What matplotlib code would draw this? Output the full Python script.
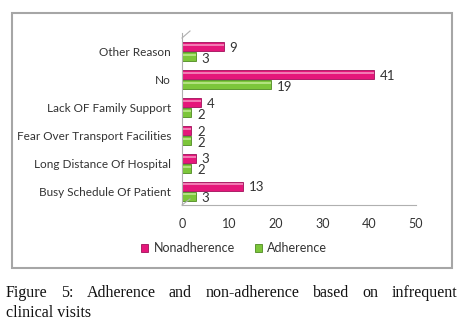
import matplotlib.pyplot as plt
from matplotlib.patches import Rectangle
from matplotlib.lines import Line2D

categories = ["Busy Schedule Of Patient", "Long Distance Of Hospital",
              "Fear Over Transport Facilities", "Lack OF Family Support",
              "No", "Other Reason"]
nonadherence = [13, 3, 2, 4, 41, 9]
adherence = [3, 2, 2, 2, 19, 3]
xticks = [0, 10, 20, 30, 40, 50]

pink = "#E5177A"
green = "#7CC63A"
txt = "#333333"

plt.rcParams["font.family"] = ["Lato", "DejaVu Sans"]

fig = plt.figure(figsize=(4.61, 3.35), dpi=100)
fig.patch.set_facecolor("white")

# outer chart border
fig.patches.append(Rectangle((12 / 461, 1 - 268 / 335), 440 / 461, 255 / 335,
                             transform=fig.transFigure, fill=False,
                             edgecolor="#a6a6a6", linewidth=1.5))

ax = fig.add_axes([182 / 461, 1 - 205 / 335, 234 / 461, 172 / 335])
y = list(range(len(categories)))
h = 0.32
ax.barh([v + 0.18 for v in y], nonadherence, height=h, color=pink,
        edgecolor="#a0105a", linewidth=0.6, label="Nonadherence")
ax.barh([v - 0.18 for v in y], adherence, height=h, color=green,
        edgecolor="#4f8a22", linewidth=0.6, label="Adherence")
# light stripe to hint at the cylinder look
ax.barh([v + 0.24 for v in y], nonadherence, height=0.07, color="#f27ab3", linewidth=0)
ax.barh([v - 0.12 for v in y], adherence, height=0.07, color="#b2e27f", linewidth=0)

for yi, n, a in zip(y, nonadherence, adherence):
    ax.text(n + 1.2, yi + 0.14, str(n), va="center", ha="left", fontsize=9.5, color=txt)
    ax.text(a + 1.2, yi - 0.26, str(a), va="center", ha="left", fontsize=9.5, color=txt)

ax.set_xlim(0, 50)
ax.set_ylim(-0.5, 5.68)
ax.set_xticks(xticks)
ax.set_xticklabels([str(t) for t in xticks], fontsize=9, color=txt)
ax.set_yticks(y)
ax.set_yticklabels(categories, fontsize=8.5, color=txt)
ax.tick_params(length=0, pad=8)
ax.tick_params(axis="x", pad=9)
for s in ["top", "right"]:
    ax.spines[s].set_visible(False)
for s in ["left", "bottom"]:
    ax.spines[s].set_color("#b0b0b0")
    ax.spines[s].set_linewidth(0.8)

# small slanted edge of the 3D wall
fig.lines.append(Line2D([182 / 461, 190 / 461], [1 - 38 / 335, 1 - 31 / 335],
                        transform=fig.transFigure, color="#b0b0b0", linewidth=0.8))
fig.lines.append(Line2D([182 / 461, 190 / 461], [1 - 205 / 335, 1 - 199 / 335],
                        transform=fig.transFigure, color="#b0b0b0", linewidth=0.8))

ax.legend(loc="center", ncol=2, frameon=False, fontsize=9,
          handlelength=0.6, handleheight=0.6, handletextpad=0.4, columnspacing=1.6,
          labelcolor=txt, bbox_to_anchor=(234 / 461, 1 - 248 / 335),
          bbox_transform=fig.transFigure)

# justified caption
line1 = ["Figure", "5:", "Adherence", "and", "non-adherence", "based", "on", "infrequent"]
cap_font = dict(fontsize=11.5, family="Liberation Serif", color="#111111", va="center", ha="left")
x0, x1 = 6 / 461, 457 / 461
fig.canvas.draw()
renderer = fig.canvas.get_renderer()
texts = [fig.text(0, 1 - 293 / 335, w, **cap_font) for w in line1]
widths = [t.get_window_extent(renderer).width / fig.bbox.width for t in texts]
gap = (x1 - x0 - sum(widths)) / (len(texts) - 1)
xpos = x0
for t, w in zip(texts, widths):
    t.set_x(xpos)
    xpos += w + gap
fig.text(x0, 1 - 313 / 335, "clinical visits", **cap_font)

fig.savefig("out.png", dpi=100)
